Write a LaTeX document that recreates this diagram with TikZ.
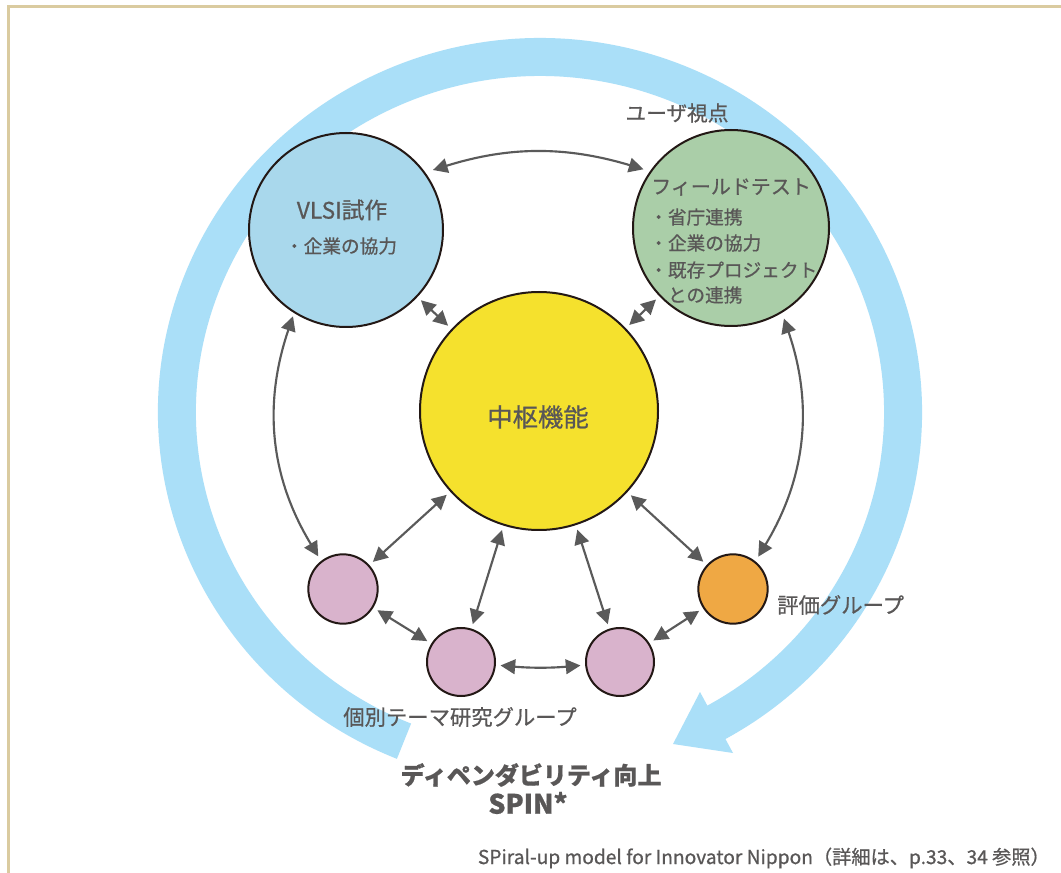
\documentclass[tikz,border=0pt]{standalone}
\usepackage{fontspec}
\setmainfont{Noto Sans CJK JP}[RawFeature={embolden=0.7}]
\usetikzlibrary{arrows.meta}
\definecolor{bandC}{RGB}{170,223,248}
\definecolor{vlsiC}{RGB}{169,216,236}
\definecolor{fieldC}{RGB}{170,206,168}
\definecolor{coreC}{RGB}{245,225,45}
\definecolor{pinkC}{RGB}{217,179,204}
\definecolor{orangeC}{RGB}{239,168,68}
\definecolor{txtC}{RGB}{89,87,87}
\definecolor{arrC}{RGB}{90,90,90}
\definecolor{rimC}{RGB}{35,24,21}
\definecolor{frameC}{RGB}{218,203,160}
\begin{document}
\begin{tikzpicture}[x=0.75pt,y=-0.75pt,
  disc/.style={circle,draw=rimC,line width=1.5pt,inner sep=0pt},
  link/.style={draw=arrC,line width=1.6pt,
    {Triangle[length=11pt,width=11pt]}-{Triangle[length=11pt,width=11pt]},
    shorten <=3.5pt,shorten >=3.5pt},
  lbl/.style={text=txtC,inner sep=0pt}]
\useasboundingbox (0,0) rectangle (1061,873);
\fill[white] (0,0) rectangle (1061,873);
\draw[frameC,line width=2pt] (8.5,873) -- (8.5,6.5) -- (1061,6.5);

% spiral band
\draw[bandC,line width=28.5pt] (404,741.2) arc[start angle=112,end angle=421,x radius=363,y radius=355];
\fill[bandC] (700,692) -- (673,744) -- (733,753) -- cycle;

% circles
\node[disc,fill=vlsiC,minimum size=145.5pt] (vlsi) at (346,230) {};
\node[disc,fill=fieldC,minimum size=147pt] (field) at (731,228) {};
\node[disc,fill=coreC,minimum size=178.5pt] (core) at (539,411) {};
\node[disc,fill=pinkC,minimum size=52pt] (p1) at (343,589) {};
\node[disc,fill=pinkC,minimum size=51pt] (p2) at (461,662) {};
\node[disc,fill=pinkC,minimum size=51pt] (p3) at (620,662) {};
\node[disc,fill=orangeC,minimum size=52pt] (eval) at (733,589) {};

% texts
\node[lbl,font=\fontsize{17}{18}\selectfont] (vlsiT) at (342,210) {VLSI試作};
\node[lbl,font=\fontsize{14}{16}\selectfont] (vlsiI) at (341,246) {・企業の協力};
\node[lbl,anchor=west,font=\fontsize{15}{18}\selectfont] (ft0) at (651,187) {フィールドテスト};
\node[lbl,anchor=west,font=\fontsize{14}{16}\selectfont] (ft1) at (649,217) {・省庁連携};
\node[lbl,anchor=west,font=\fontsize{14}{16}\selectfont] (ft2) at (649,243) {・企業の協力};
\node[lbl,anchor=west,font=\fontsize{14}{16}\selectfont] (ft3) at (649,270) {・既存プロジェクト};
\node[lbl,anchor=west,font=\fontsize{14}{16}\selectfont] (ft4) at (649,295) {\phantom{・}との連携};
\node[lbl,font=\fontsize{19}{22}\selectfont] (coreT) at (538,417) {中枢機能};
\node[lbl,font=\fontsize{15.5}{18}\selectfont] (user) at (677,113) {ユーザ視点};
\node[lbl,anchor=west,font=\fontsize{16}{18}\selectfont] (evalT) at (777,605) {評価グループ};
\node[lbl,font=\fontsize{16}{18}\selectfont] (grpT) at (460,717) {個別テーマ研究グループ};
\node[lbl,font=\bfseries\fontsize{18}{20}\selectfont] (dep) at (531,775) {ディペンダビリティ向上};
\node[lbl,font=\bfseries\fontsize{20}{20}\selectfont] (spin) at (528,803) {SPIN*};
\node[lbl,anchor=east,font=\fontsize{14.4}{16}\selectfont] (cap) at (1050,858) {SPiral-up model for Innovator Nippon（詳細は、p.33、34 参照）};

% connectors
\draw[link,shorten <=6pt,shorten >=5pt] (vlsi.36) to[bend left=17] (field.145);
\draw[link] (vlsi) -- (core);
\draw[link] (field) -- (core);
\draw[link,shorten <=2.5pt,shorten >=4pt] (vlsi.238) to[bend right=25] (p1.128);
\draw[link,shorten <=4.5pt,shorten >=4pt] (field.301) to[bend left=25] (eval.51);
\draw[link] (core) -- (p1);
\draw[link] (core) -- (p2);
\draw[link] (core) -- (p3);
\draw[link] (core) -- (eval);
\draw[link] (p1) -- (p2);
\draw[link] (p2) to[bend right=5] (p3);
\draw[link] (p3) -- (eval);
\end{tikzpicture}
\end{document}
